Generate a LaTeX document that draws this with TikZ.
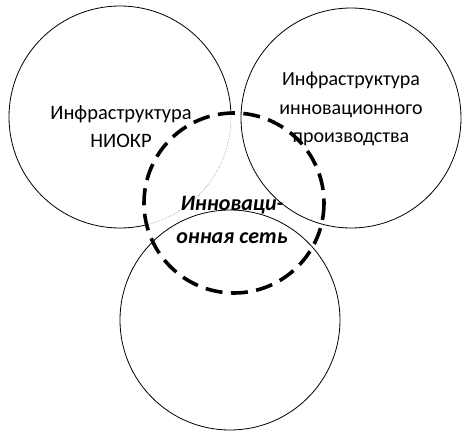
\documentclass[tikz,border=0pt]{standalone}
\usepackage{fontspec}
\setmainfont{Carlito}
\usepackage{tikz}
\usetikzlibrary{arrows,shapes,positioning}
\usetikzlibrary{calc}

\tikzset{
  infra/.style={draw=black, line width=0.8pt},
  netline/.style={draw=black, line width=3.6pt, dash pattern=on 17pt off 8.5pt},
  caption/.style={align=center, inner sep=0pt}
}

\begin{document}
\begin{tikzpicture}[x=1pt, y=-1pt]

\useasboundingbox (0,0) rectangle (467,432);

\coordinate (niokr) at (120,117);
\coordinate (prod) at (351,118);
\coordinate (bottom) at (230,320);
\coordinate (net) at (234,203);

% solid part of the circles
\begin{scope}[even odd rule]
\clip (0,0) rectangle (467,432) (net) circle (90);
\draw[infra] (niokr) circle (111);
\end{scope}
\begin{scope}
\clip (net) circle (90);
\draw[gray, line width=0.5pt, densely dotted] (niokr) circle (111);
\end{scope}

\draw[infra] (prod) circle (110);
\draw[infra] (bottom) circle (110);

\draw[netline] (net) circle (90);

\node[caption, font=\fontsize{20.5}{28}\selectfont] (tniokr) at (121,127) {Инфраструктура\\НИОКР};
\node[caption, font=\fontsize{20}{28.5}\selectfont] (tprod) at (351,109) {Инфраструктура\\инновационного\\производства};
\node[caption, font=\fontsize{22}{33}\selectfont\bfseries\itshape] (tnet) at (232,220) {Инноваци-\\онная сеть};

\end{tikzpicture}
\end{document}
